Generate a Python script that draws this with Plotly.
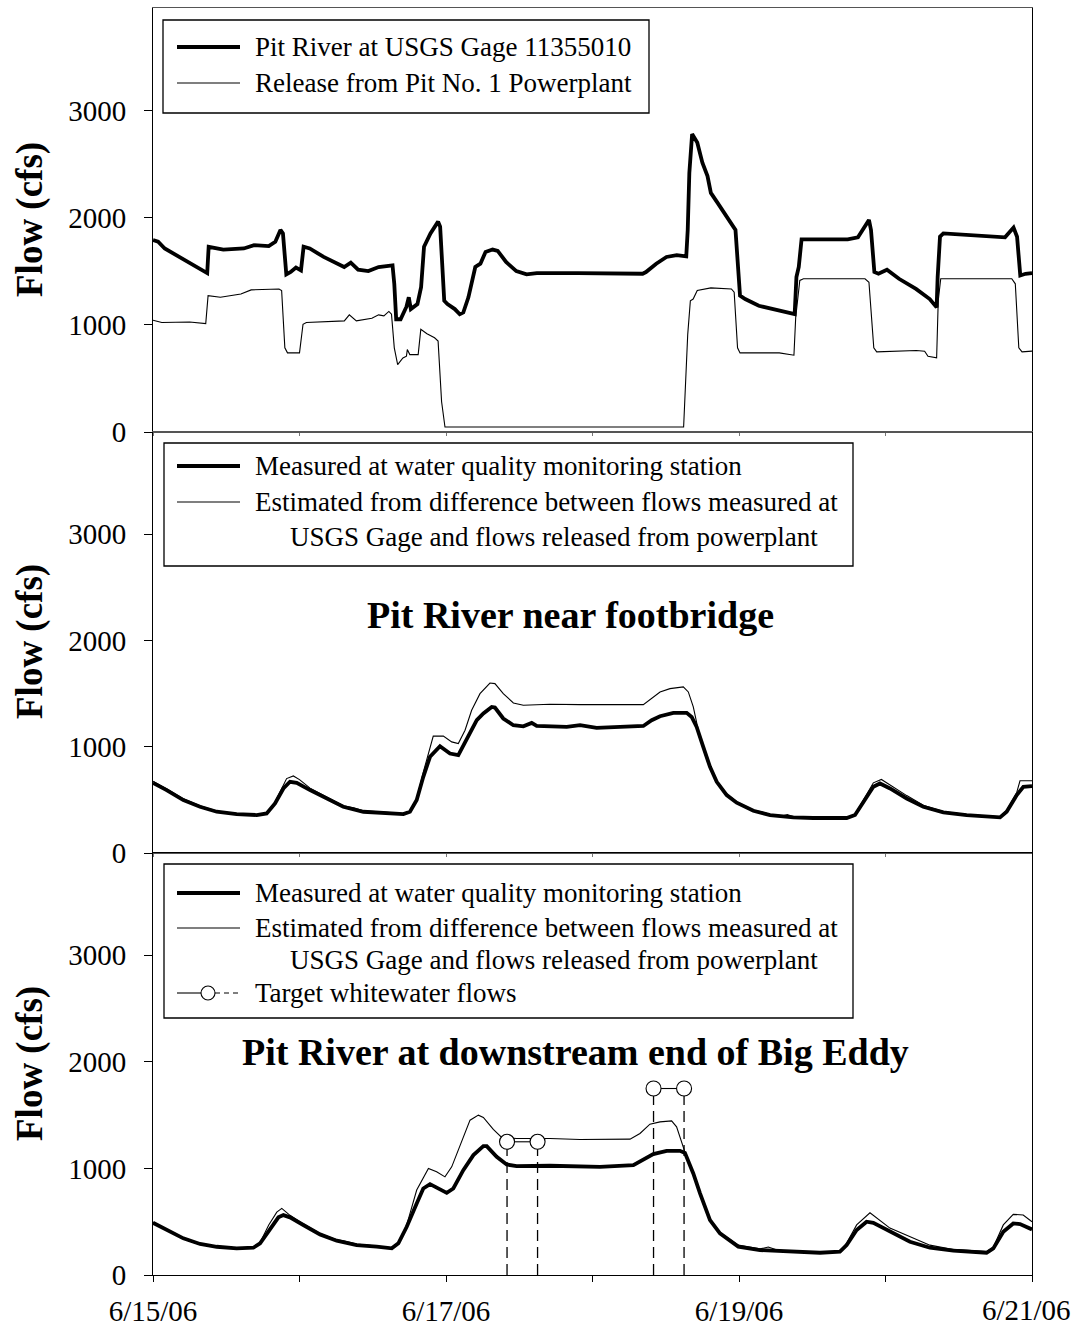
import pandas as pd
import plotly.graph_objects as go
from plotly.subplots import make_subplots

# ---------------- data (time = days after 6/15/06 00:00, flow in cfs) ----------------
gage_t = [0, 0.035, 0.08, 0.18, 0.27, 0.35, 0.37, 0.38, 0.41, 0.48, 0.62, 0.69, 0.79, 0.835, 0.87,
          0.887, 0.91, 0.94, 0.976, 1.01, 1.028, 1.07, 1.165, 1.28, 1.305, 1.35, 1.40, 1.47, 1.54, 1.635,
          1.647, 1.66, 1.69, 1.73, 1.746, 1.76, 1.805, 1.83, 1.85, 1.894, 1.946, 1.96, 1.988, 2.01, 2.06,
          2.094, 2.118, 2.153, 2.2, 2.235, 2.27, 2.318, 2.353, 2.41, 2.48, 2.55, 2.62, 2.9, 3.1, 3.342,
          3.365, 3.435, 3.505, 3.575, 3.64, 3.65, 3.661, 3.68, 3.715, 3.75, 3.785, 3.808, 3.855, 3.913, 3.967,
          3.976, 4.007, 4.042, 4.135, 4.275, 4.38, 4.392, 4.408, 4.427, 4.509, 4.742, 4.812, 4.847, 4.887, 4.901,
          4.924, 4.952, 5.01, 5.092, 5.208, 5.302, 5.349, 5.356, 5.372, 5.395, 5.559, 5.816, 5.874, 5.898, 5.92,
          5.956, 6.0]
gage_v = [1792, 1777, 1714, 1635, 1557, 1494, 1484, 1730, 1723, 1704, 1714, 1745, 1736, 1777, 1887,
          1855, 1472, 1494, 1535, 1509, 1730, 1714, 1635, 1550, 1541, 1582, 1516, 1503, 1541, 1557,
          1384, 1053, 1053, 1170, 1258, 1148, 1195, 1352, 1730, 1855, 1965, 1918, 1226, 1195, 1148,
          1100, 1116, 1258, 1541, 1572, 1682, 1704, 1692, 1588, 1503, 1472, 1484, 1484, 1478, 1478,
          1494, 1572, 1635, 1651, 1641, 1887, 2421, 2783, 2704, 2516, 2390, 2233, 2138, 2013, 1903,
          1887, 1274, 1242, 1179, 1132, 1101, 1447, 1541, 1799, 1799, 1799, 1818, 1887, 1981, 1887,
          1494, 1478, 1516, 1431, 1336, 1242, 1164, 1447, 1824, 1855, 1840, 1818, 1909, 1824, 1462,
          1478, 1484]

release_t = [0, 0.06, 0.25, 0.32, 0.36, 0.376, 0.46, 0.6, 0.67, 0.86, 0.878, 0.9, 0.918, 1.0, 1.024,
             1.047, 1.306, 1.34, 1.388, 1.494, 1.54, 1.576, 1.61, 1.628, 1.647, 1.67, 1.706, 1.73, 1.736, 1.753,
             1.81, 1.828, 1.87, 1.922, 1.946, 1.97, 1.993, 3.622, 3.65, 3.668, 3.687, 3.715, 3.808, 3.948, 3.967,
             3.99, 4.007, 4.275, 4.375, 4.387, 4.415, 4.44, 4.86, 4.887, 4.92, 4.94, 5.21, 5.267, 5.29, 5.349,
             5.36, 5.377, 5.862, 5.886, 5.91, 5.932, 6.0]
release_v = [1044, 1022, 1028, 1022, 1013, 1274, 1258, 1289, 1327, 1336, 1321, 786, 739, 739, 1006,
             1022, 1038, 1094, 1038, 1063, 1094, 1085, 1126, 1100, 786, 629, 692, 708, 770, 723,
             723, 959, 918, 880, 849, 283, 47, 47, 912, 1226, 1242, 1321, 1346, 1336, 1305,
             786, 739, 739, 717, 1069, 1415, 1431, 1431, 1399, 786, 748, 761, 755, 708, 692,
             1226, 1431, 1431, 1384, 786, 748, 755]

fb_meas_t = [0, 0.093, 0.207, 0.321, 0.435, 0.571, 0.708, 0.776, 0.833, 0.89, 0.935, 0.981, 1.072, 1.186,
             1.299, 1.436, 1.572, 1.709, 1.754, 1.8, 1.845, 1.891, 1.959, 2.027, 2.084, 2.13, 2.21, 2.255,
             2.312, 2.334, 2.391, 2.46, 2.528, 2.585, 2.619, 2.824, 2.915, 3.028, 3.21, 3.347, 3.404, 3.461,
             3.552, 3.643, 3.677, 3.711, 3.756, 3.802, 3.848, 3.916, 3.984, 4.098, 4.212, 4.371, 4.507, 4.735,
             4.792, 4.849, 4.917, 4.962, 5.031, 5.145, 5.258, 5.395, 5.554, 5.782, 5.827, 5.896, 5.941, 6.0]
fb_meas_v = [660, 592, 498, 435, 388, 366, 357, 372, 466, 607, 670, 660, 592, 513,
             435, 388, 379, 366, 388, 498, 717, 905, 1005, 936, 920, 1045, 1249, 1312,
             1374, 1368, 1265, 1202, 1192, 1224, 1195, 1186, 1202, 1177, 1186, 1195, 1249, 1286,
             1318, 1318, 1280, 1186, 998, 810, 670, 545, 473, 397, 357, 335, 329, 329,
             357, 482, 623, 654, 607, 513, 435, 382, 357, 335, 388, 545, 623, 629]

fb_est_t = [0, 0.093, 0.207, 0.321, 0.435, 0.571, 0.708, 0.776, 0.833, 0.912, 0.958, 1.0, 1.072, 1.186,
            1.299, 1.37, 1.436, 1.572, 1.709, 1.754, 1.8, 1.845, 1.913, 1.982, 2.039, 2.084, 2.13, 2.175,
            2.232, 2.3, 2.334, 2.391, 2.46, 2.528, 2.71, 2.915, 3.324, 3.347, 3.461, 3.529, 3.62, 3.654,
            3.688, 3.722, 3.756, 3.802, 3.848, 3.916, 3.984, 4.098, 4.212, 4.3, 4.33, 4.371, 4.507, 4.735,
            4.792, 4.849, 4.917, 4.972, 5.031, 5.145, 5.258, 5.395, 5.554, 5.782, 5.827, 5.896, 5.918, 6.0]
fb_est_v = [675, 605, 510, 445, 395, 370, 360, 376, 480, 700, 725, 690, 610, 525,
            445, 425, 398, 385, 370, 392, 510, 760, 1099, 1099, 1045, 1030, 1155, 1343,
            1499, 1599, 1593, 1499, 1411, 1390, 1399, 1396, 1396, 1396, 1515, 1546, 1562, 1515,
            1374, 1155, 998, 815, 680, 555, 482, 405, 365, 350, 362, 340, 335, 335,
            365, 495, 660, 692, 640, 540, 450, 390, 362, 340, 400, 570, 679, 679]

be_meas_t = [0, 0.093, 0.207, 0.321, 0.435, 0.571, 0.685, 0.731, 0.799, 0.856, 0.89, 0.935, 1.026, 1.14,
             1.254, 1.39, 1.527, 1.63, 1.675, 1.732, 1.8, 1.845, 1.891, 1.948, 2.005, 2.05, 2.118, 2.187,
             2.255, 2.278, 2.346, 2.414, 2.482, 2.71, 2.915, 3.051, 3.279, 3.347, 3.415, 3.506, 3.597, 3.631,
             3.688, 3.734, 3.802, 3.87, 3.995, 4.143, 4.325, 4.553, 4.689, 4.735, 4.803, 4.871, 4.917, 5.03,
             5.167, 5.303, 5.463, 5.69, 5.736, 5.804, 5.872, 5.918, 6.0]
be_meas_v = [490, 422, 344, 291, 265, 250, 256, 297, 437, 541, 562, 541, 469, 381,
             322, 281, 266, 250, 297, 453, 672, 812, 853, 812, 771, 812, 984, 1125,
             1209, 1209, 1109, 1037, 1022, 1025, 1015, 1015, 1031, 1084, 1134, 1165, 1165, 1146,
             953, 766, 515, 391, 266, 234, 219, 209, 219, 281, 422, 500, 490, 406,
             312, 256, 228, 209, 250, 406, 484, 478, 428]

be_est_t = [0, 0.093, 0.207, 0.321, 0.435, 0.571, 0.685, 0.731, 0.79, 0.845, 0.879, 0.935, 1.026, 1.14,
            1.254, 1.3, 1.39, 1.527, 1.63, 1.675, 1.732, 1.8, 1.88, 1.936, 1.993, 2.039, 2.107, 2.164,
            2.221, 2.255, 2.323, 2.38, 2.482, 2.71, 2.915, 3.143, 3.256, 3.324, 3.392, 3.461, 3.54, 3.574,
            3.597, 3.631, 3.688, 3.734, 3.802, 3.87, 3.995, 4.143, 4.2, 4.25, 4.325, 4.553, 4.689, 4.735,
            4.803, 4.894, 5.03, 5.19, 5.303, 5.463, 5.69, 5.736, 5.804, 5.872, 5.94, 6.0]
be_est_v = [495, 428, 350, 296, 270, 255, 260, 305, 470, 590, 625, 560, 480, 390,
            330, 320, 290, 272, 256, 300, 470, 797, 1000, 968, 921, 1015, 1250, 1453,
            1500, 1478, 1366, 1291, 1281, 1281, 1272, 1275, 1275, 1328, 1415, 1437, 1446, 1390,
            1296, 1153, 953, 770, 525, 400, 280, 245, 262, 240, 225, 215, 225, 300,
            470, 584, 440, 344, 280, 240, 220, 260, 470, 569, 563, 500]

target_start = ["2006-06-17 10:00", "2006-06-18 10:00"]
target_end = ["2006-06-17 15:00", "2006-06-18 15:00"]
target_flow = [1250, 1750]

tick_dates = ["2006-06-15", "2006-06-16", "2006-06-17", "2006-06-18", "2006-06-19", "2006-06-20", "2006-06-21"]
tick_text = ["6/15/06", "", "6/17/06", "", "6/19/06", "", ""]
last_tick_label = "6/21/06"
y_ticks = [0, 1000, 2000, 3000]

legend1 = ["Pit River at USGS Gage 11355010", "Release from Pit No. 1 Powerplant"]
legend_meas = "Measured at water quality monitoring station"
legend_est = ["Estimated from difference between flows measured at",
              "USGS Gage and flows released from powerplant"]
legend_target = "Target whitewater flows"
title2 = "Pit River near footbridge"
title3 = "Pit River at downstream end of Big Eddy"

for a, b in [(gage_t, gage_v), (release_t, release_v), (fb_meas_t, fb_meas_v), (fb_est_t, fb_est_v),
             (be_meas_t, be_meas_v), (be_est_t, be_est_v)]:
    assert len(a) == len(b), (len(a), len(b))

base = pd.Timestamp("2006-06-15")


def to_time(days):
    return [base + pd.Timedelta(days=d) for d in days]


FONT = "Liberation Serif, Times New Roman, serif"
W, H = 1076, 1330
L, R = 153, 1032
T, B = 8, 1275


def px(x):
    return (x - L) / (R - L)


def py(y):
    return (B - y) / (B - T)


fig = make_subplots(rows=3, cols=1, shared_xaxes=True, vertical_spacing=0)

THICK = 3.8
THIN = 1.1

fig.add_trace(go.Scatter(x=to_time(release_t), y=release_v, mode="lines",
                         line=dict(color="black", width=THIN), showlegend=False), row=1, col=1)
fig.add_trace(go.Scatter(x=to_time(gage_t), y=gage_v, mode="lines",
                         line=dict(color="black", width=THICK), showlegend=False), row=1, col=1)

fig.add_trace(go.Scatter(x=to_time(fb_est_t), y=fb_est_v, mode="lines",
                         line=dict(color="black", width=THIN), showlegend=False), row=2, col=1)
fig.add_trace(go.Scatter(x=to_time(fb_meas_t), y=fb_meas_v, mode="lines",
                         line=dict(color="black", width=THICK), showlegend=False), row=2, col=1)

fig.add_trace(go.Scatter(x=to_time(be_est_t), y=be_est_v, mode="lines",
                         line=dict(color="black", width=THIN), showlegend=False), row=3, col=1)
fig.add_trace(go.Scatter(x=to_time(be_meas_t), y=be_meas_v, mode="lines",
                         line=dict(color="black", width=THICK), showlegend=False), row=3, col=1)

# target whitewater flows: dashed drop lines + solid connector with open circles
for s, e, f in zip(target_start, target_end, target_flow):
    for t in (s, e):
        fig.add_trace(go.Scatter(x=[t, t], y=[0, f], mode="lines",
                                 line=dict(color="black", width=1.3, dash="11px,6px"),
                                 showlegend=False), row=3, col=1)
    fig.add_trace(go.Scatter(x=[s, e], y=[f, f], mode="lines+markers",
                             line=dict(color="black", width=1.1),
                             marker=dict(symbol="circle", size=15, color="white",
                                         line=dict(color="black", width=1.1)),
                             showlegend=False), row=3, col=1)

YMAX = 3960
doms = [(py(432), 1.0), (py(853), py(432)), (0.0, py(853))]
for i in range(3):
    n = "" if i == 0 else str(i + 1)
    fig.layout["yaxis" + n].update(
        domain=list(doms[i]), range=[0, YMAX], tickvals=y_ticks, ticks="outside", ticklen=8,
        tickcolor="black", showline=True, linecolor="black", linewidth=1, mirror=True,
        showgrid=False, zeroline=False, tickfont=dict(family=FONT, size=29, color="black"),
        ticklabelstandoff=12, automargin=False, ticklabeloverflow="allow")
    last = i == 2
    fig.layout["xaxis" + n].update(
        type="date", range=["2006-06-15", "2006-06-21"], tickvals=tick_dates,
        ticktext=tick_text, showticklabels=last, ticks="outside", ticklen=6 if last else 3,
        tickcolor="black" if last else "#777", showline=True,
        linecolor="black" if last else "#555", linewidth=1, mirror=True, showgrid=False,
        zeroline=False, tickfont=dict(family=FONT, size=29, color="black"),
        ticklabelstandoff=4, automargin=False, ticklabeloverflow="allow")

shapes = []
annotations = []


def box(x0, y0, x1, y1):
    shapes.append(dict(type="rect", xref="paper", yref="paper", x0=px(x0), x1=px(x1),
                       y0=py(y1), y1=py(y0), line=dict(color="black", width=1.3),
                       fillcolor="white", layer="above"))


def hline(x0, x1, y, width, dash="solid"):
    shapes.append(dict(type="line", xref="paper", yref="paper", x0=px(x0), x1=px(x1),
                       y0=py(y), y1=py(y), line=dict(color="black", width=width, dash=dash),
                       layer="above"))


def text(x, y, s, size=27, bold=False, anchor="left", angle=0):
    annotations.append(dict(xref="paper", yref="paper", x=px(x), y=py(y),
                            text=("<b>%s</b>" % s) if bold else s, showarrow=False,
                            xanchor=anchor, yanchor="middle", textangle=angle,
                            font=dict(family=FONT, size=size, color="black")))


# legend 1
box(163, 20, 649, 113)
hline(177, 240, 47, 4)
text(253, 47, legend1[0])
hline(177, 240, 83, 1.1)
text(253, 83, legend1[1])

# legend 2
box(164, 443, 853, 566)
hline(177, 240, 466, 4)
text(253, 466, legend_meas)
hline(177, 240, 502, 1.1)
text(253, 502, legend_est[0])
text(288, 537, legend_est[1])

# legend 3
box(164, 864, 853, 1018)
hline(177, 240, 893, 4)
text(253, 893, legend_meas)
hline(177, 240, 928, 1.1)
text(253, 928, legend_est[0])
text(288, 960, legend_est[1])
hline(177, 201, 993, 1.1)
hline(215, 240, 993, 1.1, dash="5px,4px")
shapes.append(dict(type="circle", xref="paper", yref="paper", x0=px(201), x1=px(215),
                   y0=py(1000), y1=py(986), line=dict(color="black", width=1.1),
                   fillcolor="white", layer="above"))
text(253, 993, legend_target)

# panel titles
text(570, 615, title2, size=38, bold=True, anchor="center")
text(575, 1052, title3, size=38, bold=True, anchor="center")

# y axis titles
for yc in (220, 642, 1064):
    text(30, yc, "Flow (cfs)", size=37, bold=True, anchor="center", angle=-90)

# last x tick label kept inside the page (as in the reference)
annotations.append(dict(xref="paper", yref="paper", x=px(1073), y=py(1310), text=last_tick_label,
                        showarrow=False, xanchor="right", yanchor="middle",
                        font=dict(family=FONT, size=29, color="black")))

fig.update_layout(width=W, height=H, margin=dict(l=L, r=W - R, t=T, b=H - B, autoexpand=False),
                  paper_bgcolor="white", plot_bgcolor="white", showlegend=False,
                  shapes=shapes, annotations=annotations,
                  font=dict(family=FONT, color="black"))

fig.write_html("out.html")
